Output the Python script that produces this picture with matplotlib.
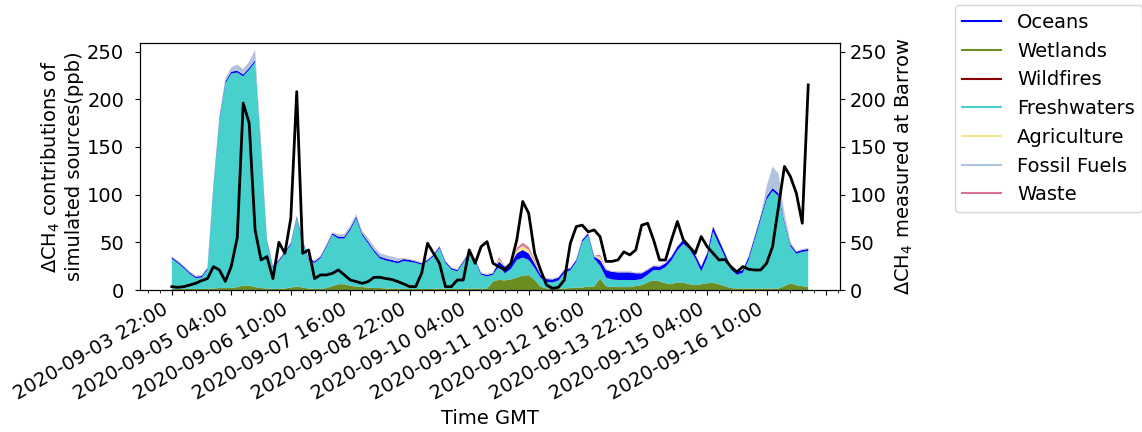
import numpy as np
import pandas as pd
import matplotlib
matplotlib.use('Agg')
from matplotlib import pyplot as plt
from matplotlib.lines import Line2D
from matplotlib.ticker import MultipleLocator

# ---------- 3-hourly time axis
times = pd.date_range('2020-09-03 22:00', periods=108, freq='3h')

# ---------- Simulated source contributions (ppb)
wetlands = [1, 1, 1, 1, 1, 1, 1, 1.5, 2, 2, 2, 3, 4.5, 4.5, 3, 2, 1.5, 1, 1, 1.5,
            2.5, 3.5, 2.5, 1.5, 1, 1, 2, 4, 6, 6, 4.5, 3.5, 3, 2.5, 2, 2, 1.5, 1.5, 1.5, 1,
            1, 1, 1, 1, 1, 1.5, 1, 1, 1, 1, 1.5, 1.5, 1, 1.5, 9, 10.5, 10, 11, 13, 15,
            15.5, 10.5, 3.5, 1.5, 1.5, 1.5, 1.5, 2, 2.5, 2.5, 3.5, 3.5, 12, 4, 3, 3, 3, 3, 4, 5,
            8, 10, 9, 7, 6, 8, 7.5, 6, 5, 6, 7, 7.5, 6, 4, 2, 1.5, 1.5, 1.5, 1.5, 1.5,
            1.5, 1.5, 1.5, 4, 7, 5, 4, 3]
wildfires = [0.1] * 108
freshwaters = [31.7, 27.2, 21.9, 15.9, 11.4, 12.1, 20.2, 106.4, 175.9, 214.9, 224.9, 224.9,
               219.4, 226.4, 235.9, 145.9, 48.9, 21.9, 28.9, 36.9, 44.9, 71.9, 47.9, 29.9,
               27.4, 32.4, 43.4, 53.9, 47.9, 47.9, 58.4, 71.4, 54.4, 46.4, 37.9, 30.9, 29.4,
               27.9, 26.4, 29.4, 28.4, 27.4, 25.4, 28.9, 34.4, 42.4, 27.4, 20.4, 18.4, 27.4,
               36.9, 28.4, 14.9, 12.7, 6.9, 14.4, 7.4, 10.9, 18.4, 18.9, 15.9, 12.4, 9.2, 6.9,
               6.4, 8.4, 16.4, 18.7, 26.9, 47.9, 53.9, 29.4, 13.4, 8.9, 7.9, 7.4, 7.4, 7.4,
               6.4, 6.4, 7.9, 10.9, 11.4, 16.9, 24.9, 33.4, 40.9, 36.9, 27.9, 13.4, 26.4, 53.9,
               41.4, 30.4, 19.4, 14.4, 16.4, 30.4, 51.4, 72.4, 93.4, 102.4, 96.9, 65.9, 38.9,
               32.9, 35.9, 37.9]
oceans = [1.5, 1.5, 1.5, 1.5, 1.5, 1.5, 1.5, 2, 2, 2, 2, 2, 2, 2, 2, 2, 1.5, 1.5, 1.5, 1.5,
          1.5, 1.5, 1.5, 1.5, 1.5, 1.5, 1.5, 1.5, 2, 2, 2, 2, 2, 2, 2, 2, 2, 2, 2, 2,
          2, 1.5, 1.5, 1.5, 1.5, 1.5, 1.5, 1.5, 1.5, 1.5, 1.5, 1.5, 1.5, 1.5, 1.5, 5, 7, 6, 7, 8,
          7, 5, 3, 3, 3, 3, 3, 2, 2, 2, 2, 2, 6, 8, 8, 8, 8, 8, 7, 6,
          5, 4, 4, 4, 4, 4, 4, 4, 4, 5, 5, 5, 5, 4, 3, 3, 3, 3, 3, 3,
          3, 3, 3, 2, 2, 2, 2, 2]
agriculture = [0.3] * 108
agriculture[55] = 2
agriculture[58:62] = [3, 4, 3, 1.5]
agriculture[72] = 3
fossil_fuels = [0.5] * 108
fossil_fuels[9:16] = [2, 4, 6, 5, 6, 10, 4]
fossil_fuels[28:39] = [2, 2, 2, 2, 2, 3, 3, 3, 3, 3, 3]
fossil_fuels[100:105] = [10, 22, 20, 8, 2]
waste = [0.2] * 108
waste[55] = 2
waste[58:62] = [2, 3, 3, 2]
waste[72] = 2

# ---------- Measured at Barrow (ppb)
measured = [3.5, 2.8, 3.5, 5.2, 7, 9.8, 12, 24.5, 21, 9, 25, 55, 196, 175, 63, 31.5, 35, 12,
            50, 38.5, 75, 208, 38.5, 42, 12, 15.8, 15.8, 17.5, 21, 15.8, 10.5, 8.8, 7, 8.8,
            13.3, 13.3, 12, 11, 8.8, 6.3, 3.5, 3.5, 17.5, 49, 38.5, 28, 3.5, 3.5, 10.5, 10.5,
            42, 28, 45.5, 50.7, 28, 24.5, 21, 28, 52.5, 92.8, 80.5, 38.5, 21, 5.2, 1.7, 2.8,
            10.5, 49, 66.5, 68, 61, 63, 56, 30, 30, 31.5, 40, 36.8, 42, 68, 70, 52.5, 31.5,
            31.5, 52.5, 71.8, 52.5, 45.5, 38.5, 56, 45.5, 38.5, 31.5, 32, 24.5, 19, 24.5, 21.7,
            21, 21, 28, 45.5, 87.5, 129.5, 119, 101.5, 70, 215]

names = ['Oceans', 'Wetlands', 'Wildfires', 'Freshwaters', 'Agriculture', 'Fossil Fuels', 'Waste']
colors = {'Oceans': 'blue', 'Wetlands': 'olivedrab', 'Wildfires': 'darkred',
          'Freshwaters': 'mediumturquoise', 'Agriculture': 'khaki',
          'Fossil Fuels': 'lightsteelblue', 'Waste': 'palevioletred'}

x = np.arange(len(times))

fig = plt.figure(figsize=(11.42, 4.32), dpi=100)
ax = fig.add_axes([0.1226, 0.3287, 0.613, 0.5718])

# ---------- Stacked contributions
stack = [wetlands, wildfires, freshwaters, oceans, agriculture, fossil_fuels, waste]
order = ['Wetlands', 'Wildfires', 'Freshwaters', 'Oceans', 'Agriculture', 'Fossil Fuels', 'Waste']
ax.stackplot(x, *stack, colors=[colors[n] for n in order])
ax.set_ylim(0, 259)
ax.set_xlim(-5.35, 112.35)
ax.set_ylabel('$\\Delta$CH$_4$ contributions of\nsimulated sources(ppb)', fontsize=14, labelpad=2)
ax.set_xlabel('Time GMT', fontsize=14)

ticks = list(range(0, 111, 10))
labels = list(times[::10].strftime('%Y-%m-%d %H:%M')) + ['']
ax.set_xticks(ticks)
ax.set_xticklabels(labels, rotation=30, ha='right')
ax.xaxis.set_minor_locator(MultipleLocator(2))
ax.tick_params(labelsize=14)
ax.tick_params(axis='y', pad=8)

# ---------- Measured line
ax2 = ax.twinx()
ax2.plot(x, measured, color='black', lw=2)
ax2.set_ylim(0, 259)
ax2.set_ylabel('$\\Delta$CH$_4$ measured at Barrow', fontsize=14)
ax2.tick_params(labelsize=14)

handles = [Line2D([], [], color=colors[n], lw=1.5, label=n) for n in names]
fig.legend(handles=handles, loc='upper left', bbox_to_anchor=(0.836, 0.988),
           borderaxespad=0, fontsize=14)

fig.savefig('out.png', dpi=100)
